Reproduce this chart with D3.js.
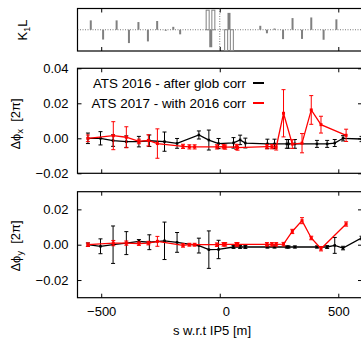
<!DOCTYPE html>
<html><head><meta charset="utf-8">
<script src="https://cdn.jsdelivr.net/npm/d3@7"></script>
<style>
html,body{margin:0;padding:0;background:#fff;}
svg{display:block;font-family:"Liberation Sans",Arial,Helvetica,sans-serif;}
</style></head><body>
<svg id="c" width="361" height="338"></svg>
<script>
// ---------------- data ----------------
const xTicks = [-500, 0, 500];
const yTicksX = [-0.02, 0.00, 0.02, 0.04];
const yTicksY = [-0.02, 0.00, 0.02];
const legendLabels = ["ATS 2016 - after glob corr", "ATS 2017 - with 2016 corr"];

// K1L (skew quadrupole strengths, arbitrary units)
const k1lS   = [-544, -492, -435, -383, -343, -303, -264, -228, -196, -167, -38, 39, 171, 199, 231, 267, 307, 347, 386, 438, 492];
const k1lVal = [4.5, -4.7, 4.5, -6.4, 3.7, -5.6, 4.2, -0.5, 1.4, -2.2, -8.4, 8.1, 1.9, -1.7, 0.6, -4.5, 5.6, -4.4, 5.9, -4.8, 5.0];
const tripS   = [-51, -27, 27, 51];
const tripVal = [9.4, 9.4, -10, -10];

// ATS 2016 (black)
const s2016 = [-556, -503, -450, -394, -341, -297, -233, -180, -88, -46, -5, 58, 86, 108, 201, 231, 283, 290, 317, 410, 453, 485, 520, 598];
const dphx2016 = [0.0000, 0.0000, -0.0013, -0.0019, -0.0019, -0.0014, -0.0019, -0.0029, 0.0019, -0.0010, -0.0030, -0.0026, -0.0009, -0.0027, -0.0032, -0.0032, -0.0032, -0.0032, -0.0032, -0.0032, -0.0032, -0.0027, 0.0000, -0.0004];
const errx2016 = [0.0030, 0.0038, 0.0033, 0.0033, 0.0030, 0.0033, 0.0055, 0.0028, 0.0023, 0.0057, 0.0029, 0.0030, 0.0027, 0.0028, 0.0027, 0.0027, 0.0025, 0.0025, 0.0025, 0.0020, 0.0020, 0.0020, 0.0015, 0.0015];
const dphy2016 = [0.0000, -0.0009, 0.0000, 0.0009, 0.0019, 0.0014, 0.0022, 0.0013, -0.0005, -0.0028, -0.0027, -0.0013, -0.0013, -0.0013, -0.0013, -0.0013, -0.0013, -0.0013, -0.0013, -0.0013, -0.0013, -0.0004, -0.0019, 0.0038];
const erry2016 = [0.0010, 0.0042, 0.0106, 0.0065, 0.0010, 0.0042, 0.0106, 0.0056, 0.0042, 0.0106, 0.0052, 0.0008, 0.0008, 0.0008, 0.0006, 0.0006, 0.0006, 0.0006, 0.0006, 0.0006, 0.0008, 0.0045, 0.0010, 0.0010];

// ATS 2017 (red)
const s2017 = [-556, -449, -394, -341, -301, -263, -155, -128, -106, -12, 16, 23, 70, 75, 199, 220, 238, 269, 306, 347, 386, 427, 533];
const dphx2017 = [0.0000, 0.0015, 0.0006, -0.0018, -0.0012, -0.0030, -0.0046, -0.0049, -0.0049, -0.0049, -0.0048, -0.0050, -0.0049, -0.0053, -0.0048, -0.0048, -0.0052, 0.0143, -0.0033, -0.0028, 0.0162, 0.0078, 0.0017];
const errx2017 = [0.0019, 0.0080, 0.0060, 0.0013, 0.0032, 0.0084, 0.0012, 0.0012, 0.0012, 0.0012, 0.0012, 0.0012, 0.0015, 0.0015, 0.0012, 0.0012, 0.0015, 0.0135, 0.0025, 0.0055, 0.0082, 0.0048, 0.0035];
const dphy2017 = [0.0000, 0.0009, 0.0009, 0.0006, 0.0009, 0.0019, -0.0004, 0.0000, 0.0000, 0.0000, 0.0002, 0.0002, 0.0002, 0.0002, 0.0002, 0.0002, 0.0002, 0.0003, 0.0075, 0.0136, 0.0038, -0.0023, 0.0117];
const erry2017 = [0.0010, 0.0015, 0.0012, 0.0010, 0.0010, 0.0028, 0.0010, 0.0008, 0.0008, 0.0010, 0.0010, 0.0010, 0.0010, 0.0010, 0.0010, 0.0010, 0.0010, 0.0010, 0.0012, 0.0017, 0.0010, 0.0012, 0.0012];

// ---------------- drawing ----------------
const svg = d3.select("#c");
const FS = 13;
const x = d3.scaleLinear().domain([-600, 600]).range([77.5, 362]);
const L = x.range()[0], R = x.range()[1];
const TICK = 4;

function panel(id, top, bottom, domain, yTicks, showX) {
  const y = d3.scaleLinear().domain(domain).range([bottom, top]);
  const g = svg.append("g");
  svg.append("clipPath").attr("id", id).append("rect")
    .attr("x", L).attr("y", top).attr("width", R - L).attr("height", bottom - top);
  const axes = [
    [d3.axisBottom(x).tickValues(xTicks).tickSize(-TICK).tickPadding(9).tickFormat(showX ? d3.format("d") : ""), `translate(0,${bottom})`, "b"],
    [d3.axisTop(x).tickValues(xTicks).tickSize(-TICK).tickFormat(""), `translate(0,${top})`, "t"],
    [d3.axisLeft(y).tickValues(yTicks).tickSize(-TICK).tickPadding(9).tickFormat(d3.format(".2f")), `translate(${L},0)`, "l"],
    [d3.axisRight(y).tickValues(yTicks).tickSize(-TICK).tickFormat(""), `translate(${R},0)`, "r"]
  ];
  axes.forEach(([ax, tr, side]) => {
    const a = g.append("g").attr("transform", tr).call(ax);
    a.select(".domain").remove();
    a.selectAll("line").attr("stroke", "#000").attr("stroke-width", 1);
    a.selectAll("text").attr("font-size", FS).attr("font-family", "Liberation Sans, Arial, sans-serif").attr("fill", "#000");
    if (side === "b") a.selectAll("text").filter(d => d === 0).attr("dx", 6);
  });
  g.append("rect").attr("x", L).attr("y", top).attr("width", R - L).attr("height", bottom - top)
    .attr("fill", "none").attr("stroke", "#000").attr("stroke-width", 1.2);
  const body = svg.append("g").attr("clip-path", `url(#${id})`);
  return { y, g, body };
}

function series(body, y, s, v, e, color, mk) {
  const pts = s.map((d, i) => ({ s: d, v: v[i], e: e[i] }));
  body.append("path").datum(pts)
    .attr("d", d3.line().x(d => x(d.s)).y(d => y(d.v)))
    .attr("fill", "none").attr("stroke", color).attr("stroke-width", 1.3);
  const eb = body.append("g").attr("stroke", color).attr("stroke-width", 1).attr("fill", "none");
  pts.forEach(d => {
    const xx = x(d.s), y1 = y(d.v + d.e), y0 = y(d.v - d.e);
    eb.append("line").attr("x1", xx).attr("x2", xx).attr("y1", y1).attr("y2", y0);
    eb.append("line").attr("x1", xx - 2).attr("x2", xx + 2).attr("y1", y1).attr("y2", y1);
    eb.append("line").attr("x1", xx - 2).attr("x2", xx + 2).attr("y1", y0).attr("y2", y0);
  });
  body.append("g").selectAll("rect").data(pts).join("rect")
    .attr("x", d => x(d.s) - mk / 2).attr("y", d => y(d.v) - mk / 2)
    .attr("width", mk).attr("height", mk).attr("fill", color);
}

// --- K1L panel ---
const pk = panel("clipk", 8.5, 51, [-10.2, 10.2], [], false);
pk.body.append("line").attr("x1", L).attr("x2", R).attr("y1", pk.y(0)).attr("y2", pk.y(0))
  .attr("stroke", "#777").attr("stroke-width", 1).attr("stroke-dasharray", "1,1.5");
pk.body.append("line").attr("x1", x(0)).attr("x2", x(0)).attr("y1", 8.5).attr("y2", 51)
  .attr("stroke", "#777").attr("stroke-width", 1).attr("stroke-dasharray", "1,1.5");
pk.body.selectAll("rect.k").data(k1lS.map((s, i) => ({ s, v: k1lVal[i] }))).join("rect").attr("class", "k")
  .attr("x", d => x(d.s) - (Math.abs(d.v) > 7 ? 1.5 : 1))
  .attr("width", d => (Math.abs(d.v) > 7 ? 3 : 2))
  .attr("y", d => Math.min(pk.y(d.v), pk.y(0)))
  .attr("height", d => Math.abs(pk.y(d.v) - pk.y(0)))
  .attr("fill", "#808080");
pk.body.selectAll("rect.t").data(tripS.map((s, i) => ({ s, v: tripVal[i] }))).join("rect").attr("class", "t")
  .attr("x", d => x(d.s) - 1.5).attr("width", 3)
  .attr("y", d => Math.min(pk.y(d.v), pk.y(0)))
  .attr("height", d => Math.abs(pk.y(d.v) - pk.y(0)))
  .attr("fill", "#fff").attr("stroke", "#808080").attr("stroke-width", 1);

// --- Δφx panel ---
const px = panel("clipx", 68.3, 173.3, [-0.02, 0.04], yTicksX, false);
series(px.body, px.y, s2016, dphx2016, errx2016, "#000", 2.5);
series(px.body, px.y, s2017, dphx2017, errx2017, "#f00", 3);

// legend
const leg = svg.append("g");
[["#000", 87.5], ["#f00", 107.5]].forEach(([c, yy], i) => {
  leg.append("text").attr("x", 246).attr("y", yy).attr("text-anchor", "end")
    .attr("font-size", 13.4).text(legendLabels[i]);
  leg.append("line").attr("x1", 253).attr("x2", 264).attr("y1", yy - 4.5).attr("y2", yy - 4.5)
    .attr("stroke", c).attr("stroke-width", 2);
});

// --- Δφy panel ---
const py = panel("clipy", 191.7, 297.7, [-0.03, 0.03], yTicksY, true);
series(py.body, py.y, s2016, dphy2016, erry2016, "#000", 2.5);
series(py.body, py.y, s2017, dphy2017, erry2017, "#f00", 3);

// --- axis labels ---
function ylab(cx, cy, main, sub, rest) {
  const t = svg.append("text").attr("transform", `translate(${cx},${cy}) rotate(-90)`)
    .attr("text-anchor", "middle").attr("font-size", FS);
  t.append("tspan").text(main);
  t.append("tspan").attr("font-size", 9).attr("dy", 3).text(sub);
  t.append("tspan").attr("dy", -3).text(rest);
}
ylab(27, 30, "K", "1", "L");
ylab(20, 124, "Δϕ", "x", "\u00a0\u00a0[2π]");
ylab(20, 246, "Δϕ", "y", "\u00a0\u00a0[2π]");

svg.append("text").attr("x", 212).attr("y", 335).attr("text-anchor", "middle")
  .attr("font-size", FS).text("s w.r.t IP5 [m]");
</script>
</body></html>
